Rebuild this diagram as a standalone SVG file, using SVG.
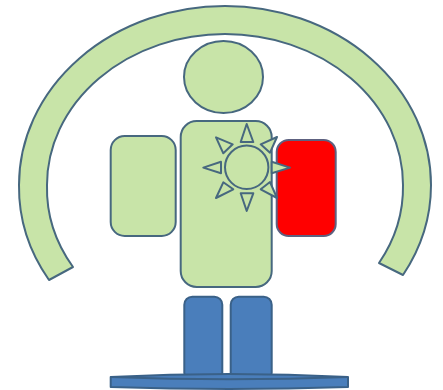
<svg xmlns="http://www.w3.org/2000/svg" width="443" height="390" viewBox="0 0 443 390">
<style>
.g{fill:#c8e4a8;stroke:#47687f;stroke-width:2;stroke-linejoin:round}
.b{fill:#4a7ebb;stroke:#3a6188;stroke-width:2;stroke-linejoin:round}
.r{fill:#ff0000;stroke:#5d6180;stroke-width:2}
.l{fill:none;stroke:#3a6188;stroke-width:2}
</style>
<rect width="443" height="390" fill="#ffffff"/>
<g id="arc"><path class="g" d="M49 280 A206 179 0 0 1 19 185 A206 179 0 0 1 225 6 A206 179 0 0 1 431 185 A206 179 0 0 1 403 275 L379 263 A178 151 0 0 0 403 185 A178 151 0 0 0 225 34 A178 151 0 0 0 47 185 A178 151 0 0 0 73 267 Z"/></g>
<g id="head"><ellipse class="g" cx="223.5" cy="77" rx="39.5" ry="36"/></g>
<g id="body"><rect class="g" x="180.7" y="121" width="91" height="166" rx="16"/></g>
<g id="left-arm"><rect class="g" x="110.7" y="136" width="65" height="100" rx="14"/></g>
<g id="right-arm"><rect class="r" x="276.7" y="140" width="59" height="96" rx="12"/></g>
<g id="sun">
<circle class="g" cx="246.7" cy="167.3" r="21.7"/>
<path class="g" d="M246.7 124L253.3 142H240.7Z"/>
<path class="g" d="M246.7 211L253.3 193.3H240.7Z"/>
<path class="g" d="M203.3 167.6L221 161.7V173.3Z"/>
<path class="g" d="M290 167.6L271.7 161.7V173.3Z"/>
<path class="g" d="M216 137.3L232.7 144.3L223.3 153.3Z"/>
<path class="g" d="M277 137L260.7 144.3L270 152.7Z"/>
<path class="g" d="M216 198L223.3 182.3L233.3 189.3Z"/>
<path class="g" d="M277 198L260.7 189.3L270 182Z"/>
</g>
<g id="left-leg"><rect class="b" x="184.3" y="296.7" width="38" height="84" rx="8"/></g>
<g id="right-leg"><rect class="b" x="230.7" y="296.7" width="41" height="84" rx="8"/></g>
<g id="platform"><path class="b" d="M110.7 377 Q229 371 348 377 V387 Q229 391 110.7 387 Z"/><path class="l" d="M110.7 377 Q229 381.5 348 377"/></g>
<g id="connectors"/>
</svg>
